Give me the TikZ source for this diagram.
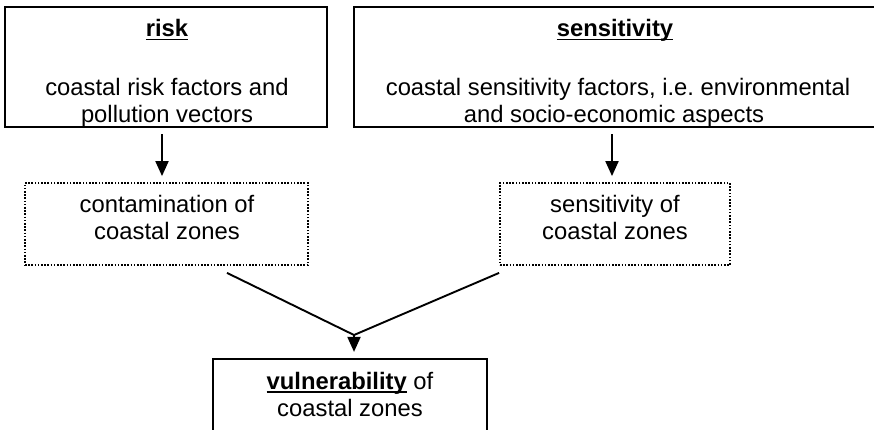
\documentclass[tikz,border=0pt]{standalone}
\usepackage{fontspec}
\setmainfont{Liberation Sans}
\usetikzlibrary{arrows.meta}
\newcommand\myul[1]{\setbox0\hbox{#1}\rlap{\rule[-3.5pt]{\wd0}{1.8pt}}\box0\relax}
\begin{document}
\begin{tikzpicture}[x=1pt,y=1pt,
  box/.style={draw, line width=2.2pt, inner sep=0pt},
  dbox/.style={draw, line width=1.8pt, dash pattern=on 1.6pt off 1.6pt, inner sep=0pt},
  txt/.style={font=\fontsize{23.8}{27}\selectfont, inner sep=0pt, anchor=base},
  conn/.style={line width=1.9pt},
  arr/.style={line width=1.9pt, -{Triangle[length=15pt,width=13pt]}}]
\useasboundingbox (0,0) rectangle (874,-430);
\clip (0,0) rectangle (874,-430);
% text
\node[txt] (riskh) at (167,-37) {\myul{\textbf{risk}}};
\node[txt] (riskl1) at (167,-96) {coastal risk factors and};
\node[txt] (riskl2) at (167,-123) {pollution vectors};
\node[txt] (sensh) at (615,-37) {\myul{\textbf{sensitivity}}};
\node[txt] (sensl1) at (618,-96) {coastal sensitivity factors, i.e.\ environmental};
\node[txt] (sensl2) at (614,-123) {and socio-economic aspects};
\node[txt] (contl1) at (167,-212) {contamination of};
\node[txt] (contl2) at (167,-239) {coastal zones};
\node[txt] (senszl1) at (615,-212) {sensitivity of};
\node[txt] (senszl2) at (615,-239) {coastal zones};
\node[txt] (vulnl1) at (350,-389) {\myul{\textbf{vulnerability}} of};
\node[txt] (vulnl2) at (350,-416) {coastal zones};
% boxes
\node[box, minimum width=322pt, minimum height=120pt] (risk) at (166,-67) {};
\node[box, minimum width=526pt, minimum height=120pt] (sens) at (617,-67) {};
\node[dbox, minimum width=283pt, minimum height=82pt] (cont) at (166.5,-224) {};
\node[dbox, minimum width=230pt, minimum height=82pt] (sensz) at (615,-224) {};
\node[box, minimum width=274pt, minimum height=91pt] (vuln) at (350,-404.5) {};
% connectors
\draw[arr] ([xshift=-4pt,yshift=-6pt]risk.south) -- ([xshift=-4.5pt,yshift=6pt]cont.north);
\draw[arr] ([xshift=-5pt,yshift=-6pt]sens.south) -- ([xshift=-3pt,yshift=6pt]sensz.north);
\coordinate (m) at (354,-335);
\draw[conn] ([shift={(60.5,-7)}]cont.south) -- (m) -- ([yshift=-7pt]sensz.south west);
\draw[arr] (m) -- ([shift={(4,6)}]vuln.north);
\end{tikzpicture}
\end{document}
